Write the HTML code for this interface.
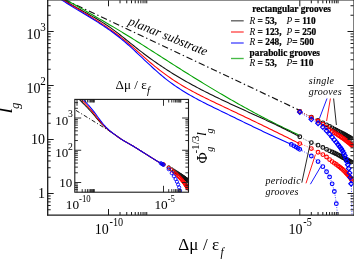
<!DOCTYPE html>
<html><head><meta charset="utf-8"><title>plot</title>
<style>html,body{margin:0;padding:0;background:#fff;overflow:hidden}body{width:354px;height:260px}</style></head>
<body>
<svg width="354" height="260" viewBox="0 0 354 260" style="display:block;will-change:transform;font-family:'Liberation Serif',serif">
<rect x="0" y="0" width="354" height="260" fill="#fff"/>
<defs><clipPath id="cm"><rect x="47.7" y="0.3" width="305.8" height="214.7"/></clipPath>
<clipPath id="ci"><rect x="74.8" y="99.4" width="113.7" height="92.8"/></clipPath></defs>
<g clip-path="url(#cm)">
<line x1="40" y1="-12.05" x2="299.7" y2="110.4" stroke="#111" stroke-width="1.15" stroke-dasharray="6.5 2.8 1.4 2.8"/>
<polyline fill="none" stroke="#00a000" stroke-width="1.08" stroke-linejoin="round"  points="54.5,-6.87 66.5,0.07 68.17,1.02 69.84,1.97 71.51,2.93 73.18,3.88 74.85,4.83 76.51,5.77 78.18,6.72 79.85,7.67 81.52,8.62 83.19,9.57 84.86,10.52 86.53,11.46 88.2,12.41 89.87,13.37 91.54,14.32 93.21,15.27 94.87,16.23 96.54,17.18 98.21,18.14 99.88,19.1 101.55,20.07 103.22,21.03 104.89,22 106.56,22.98 108.23,23.95 109.9,24.93 111.56,25.91 113.23,26.9 114.9,27.89 116.57,28.89 118.24,29.89 119.91,30.89 121.58,31.9 123.25,32.92 124.92,33.94 126.59,34.96 128.26,35.99 129.92,37.02 131.59,38.06 133.26,39.1 134.93,40.14 136.6,41.19 138.27,42.24 139.94,43.29 141.61,44.35 143.28,45.4 144.95,46.46 146.62,47.52 148.28,48.59 149.95,49.65 151.62,50.72 153.29,51.78 154.96,52.85 156.63,53.92 158.3,54.99 159.97,56.06 161.64,57.13 163.31,58.2 164.97,59.27 166.64,60.33 168.31,61.4 169.98,62.47 171.65,63.53 173.32,64.6 174.99,65.66 176.66,66.72 178.33,67.78 180,68.83 181.67,69.89 183.33,70.94 185,71.99 186.67,73.03 188.34,74.08 190.01,75.12 191.68,76.16 193.35,77.19 195.02,78.22 196.69,79.25 198.36,80.28 200.03,81.3 201.69,82.32 203.36,83.34 205.03,84.36 206.7,85.37 208.37,86.38 210.04,87.38 211.71,88.38 213.38,89.38 215.05,90.37 216.72,91.37 218.38,92.35 220.05,93.34 221.72,94.32 223.39,95.3 225.06,96.27 226.73,97.24 228.4,98.2 230.07,99.17 231.74,100.12 233.41,101.08 235.08,102.03 236.74,102.98 238.41,103.92 240.08,104.86 241.75,105.79 243.42,106.72 245.09,107.65 246.76,108.57 248.43,109.48 250.1,110.4 251.77,111.31 253.44,112.21 255.1,113.11 256.77,114 258.44,114.89 260.11,115.78 261.78,116.66 263.45,117.53 265.12,118.41 266.79,119.27 268.46,120.13 270.13,120.99 271.79,121.84 273.46,122.69 275.13,123.53 276.8,124.36 278.47,125.19 280.14,126.02 281.81,126.84 283.48,127.66 285.15,128.47 286.82,129.27 288.49,130.07 290.15,130.86 291.82,131.65 293.49,132.43 295.16,133.21 296.83,133.98 298.5,134.74"/>
<polyline fill="none" stroke="#111" stroke-width="1.08" stroke-linejoin="round"  points="52.5,-8.25 64.5,0.01 66.19,1.15 67.88,2.26 69.57,3.34 71.25,4.39 72.94,5.41 74.63,6.42 76.32,7.4 78.01,8.37 79.7,9.32 81.38,10.27 83.07,11.21 84.76,12.14 86.45,13.08 88.14,14.01 89.83,14.95 91.52,15.9 93.2,16.86 94.89,17.82 96.58,18.81 98.27,19.8 99.96,20.82 101.65,21.86 103.34,22.91 105.02,24 106.71,25.11 108.4,26.25 110.09,27.42 111.78,28.63 113.47,29.86 115.15,31.11 116.84,32.38 118.53,33.68 120.22,34.99 121.91,36.31 123.6,37.65 125.29,39 126.97,40.35 128.66,41.71 130.35,43.07 132.04,44.42 133.73,45.78 135.42,47.13 137.11,48.47 138.79,49.8 140.48,51.12 142.17,52.42 143.86,53.7 145.55,54.98 147.24,56.23 148.92,57.47 150.61,58.7 152.3,59.92 153.99,61.12 155.68,62.3 157.37,63.47 159.06,64.63 160.74,65.78 162.43,66.91 164.12,68.03 165.81,69.13 167.5,70.22 169.19,71.3 170.87,72.37 172.56,73.42 174.25,74.47 175.94,75.49 177.63,76.51 179.32,77.52 181.01,78.51 182.69,79.49 184.38,80.47 186.07,81.43 187.76,82.38 189.45,83.32 191.14,84.25 192.83,85.17 194.51,86.09 196.2,86.99 197.89,87.89 199.58,88.77 201.27,89.65 202.96,90.52 204.64,91.39 206.33,92.24 208.02,93.09 209.71,93.94 211.4,94.77 213.09,95.6 214.78,96.43 216.46,97.25 218.15,98.06 219.84,98.87 221.53,99.68 223.22,100.48 224.91,101.27 226.59,102.06 228.28,102.85 229.97,103.64 231.66,104.42 233.35,105.2 235.04,105.98 236.73,106.75 238.41,107.52 240.1,108.3 241.79,109.07 243.48,109.83 245.17,110.6 246.86,111.37 248.55,112.14 250.23,112.91 251.92,113.68 253.61,114.45 255.3,115.22 256.99,115.99 258.68,116.76 260.36,117.53 262.05,118.31 263.74,119.09 265.43,119.87 267.12,120.66 268.81,121.44 270.5,122.24 272.18,123.03 273.87,123.83 275.56,124.63 277.25,125.44 278.94,126.26 280.63,127.07 282.32,127.9 284,128.73 285.69,129.56 287.38,130.41 289.07,131.25 290.76,132.11 292.45,132.97 294.13,133.84 295.82,134.72 297.51,135.61 299.2,136.5"/>
<polyline fill="none" stroke="#ff0000" stroke-width="1.08" stroke-linejoin="round"  points="51,-7.51 63,0.02 64.7,1.08 66.4,2.13 68.1,3.18 69.8,4.21 71.5,5.24 73.2,6.27 74.91,7.29 76.61,8.31 78.31,9.33 80.01,10.35 81.71,11.37 83.41,12.39 85.11,13.41 86.81,14.44 88.51,15.47 90.21,16.51 91.91,17.55 93.61,18.6 95.31,19.66 97.01,20.73 98.72,21.81 100.42,22.9 102.12,24.01 103.82,25.13 105.52,26.26 107.22,27.41 108.92,28.58 110.62,29.76 112.32,30.97 114.02,32.19 115.72,33.44 117.42,34.7 119.12,35.99 120.82,37.31 122.53,38.65 124.23,40.01 125.93,41.41 127.63,42.82 129.33,44.26 131.03,45.72 132.73,47.19 134.43,48.68 136.13,50.17 137.83,51.67 139.53,53.17 141.23,54.67 142.93,56.17 144.63,57.67 146.34,59.15 148.04,60.62 149.74,62.07 151.44,63.51 153.14,64.92 154.84,66.31 156.54,67.68 158.24,69.03 159.94,70.35 161.64,71.65 163.34,72.93 165.04,74.18 166.74,75.41 168.44,76.62 170.15,77.8 171.85,78.96 173.55,80.09 175.25,81.2 176.95,82.29 178.65,83.36 180.35,84.41 182.05,85.43 183.75,86.44 185.45,87.43 187.15,88.4 188.85,89.36 190.55,90.3 192.25,91.23 193.96,92.14 195.66,93.04 197.36,93.93 199.06,94.81 200.76,95.67 202.46,96.53 204.16,97.38 205.86,98.22 207.56,99.05 209.26,99.88 210.96,100.7 212.66,101.52 214.36,102.33 216.06,103.14 217.77,103.95 219.47,104.76 221.17,105.57 222.87,106.38 224.57,107.19 226.27,108 227.97,108.81 229.67,109.62 231.37,110.43 233.07,111.24 234.77,112.05 236.47,112.86 238.17,113.67 239.87,114.48 241.58,115.29 243.28,116.11 244.98,116.92 246.68,117.73 248.38,118.55 250.08,119.36 251.78,120.18 253.48,121 255.18,121.81 256.88,122.63 258.58,123.45 260.28,124.27 261.98,125.1 263.68,125.92 265.39,126.75 267.09,127.57 268.79,128.4 270.49,129.23 272.19,130.06 273.89,130.89 275.59,131.72 277.29,132.56 278.99,133.39 280.69,134.23 282.39,135.07 284.09,135.91 285.79,136.76 287.49,137.6 289.2,138.45 290.9,139.3 292.6,140.15 294.3,141 296,141.86 297.7,142.71 299.4,143.57"/>
<polyline fill="none" stroke="#0000ff" stroke-width="1.08" stroke-linejoin="round"  points="49.8,-7.96 61.8,0.01 63.45,1.1 65.1,2.17 66.75,3.22 68.4,4.27 70.04,5.3 71.69,6.32 73.34,7.34 74.99,8.34 76.64,9.34 78.29,10.34 79.94,11.33 81.59,12.33 83.24,13.32 84.88,14.31 86.53,15.3 88.18,16.29 89.83,17.29 91.48,18.3 93.13,19.31 94.78,20.33 96.43,21.36 98.08,22.41 99.73,23.46 101.37,24.53 103.02,25.61 104.67,26.71 106.32,27.82 107.97,28.96 109.62,30.11 111.27,31.29 112.92,32.49 114.57,33.71 116.21,34.95 117.86,36.23 119.51,37.53 121.16,38.86 122.81,40.22 124.46,41.61 126.11,43.03 127.76,44.48 129.41,45.95 131.05,47.44 132.7,48.95 134.35,50.47 136,52 137.65,53.55 139.3,55.1 140.95,56.66 142.6,58.22 144.25,59.78 145.89,61.33 147.54,62.88 149.19,64.43 150.84,65.96 152.49,67.48 154.14,68.98 155.79,70.46 157.44,71.92 159.09,73.36 160.74,74.77 162.38,76.15 164.03,77.5 165.68,78.82 167.33,80.11 168.98,81.36 170.63,82.59 172.28,83.79 173.93,84.96 175.58,86.1 177.22,87.22 178.87,88.32 180.52,89.39 182.17,90.44 183.82,91.47 185.47,92.47 187.12,93.46 188.77,94.43 190.42,95.38 192.06,96.32 193.71,97.24 195.36,98.14 197.01,99.03 198.66,99.91 200.31,100.78 201.96,101.63 203.61,102.48 205.26,103.32 206.91,104.15 208.55,104.97 210.2,105.78 211.85,106.6 213.5,107.4 215.15,108.21 216.8,109.01 218.45,109.81 220.1,110.62 221.75,111.42 223.39,112.22 225.04,113.02 226.69,113.83 228.34,114.63 229.99,115.44 231.64,116.24 233.29,117.05 234.94,117.85 236.59,118.66 238.23,119.46 239.88,120.27 241.53,121.07 243.18,121.87 244.83,122.67 246.48,123.47 248.13,124.27 249.78,125.07 251.43,125.86 253.07,126.66 254.72,127.45 256.37,128.24 258.02,129.03 259.67,129.82 261.32,130.6 262.97,131.39 264.62,132.17 266.27,132.94 267.92,133.72 269.56,134.49 271.21,135.26 272.86,136.02 274.51,136.79 276.16,137.55 277.81,138.3 279.46,139.05 281.11,139.8 282.76,140.54 284.4,141.28 286.05,142.02 287.7,142.75 289.35,143.48 291,144.2"/>
<polyline fill="none" stroke="#111" stroke-width="0.8" stroke-linejoin="round" stroke-dasharray="0.9 1.6" points="299,136.3 299.53,136.61 300.05,136.91 300.58,137.21 301.11,137.51 301.63,137.81 302.16,138.1 302.69,138.38 303.22,138.66 303.74,138.94 304.27,139.22 304.8,139.49 305.32,139.76 305.85,140.02 306.38,140.28 306.9,140.54 307.43,140.8 307.96,141.05 308.48,141.29 309.01,141.54 309.54,141.78 310.06,142.01 310.59,142.25 311.12,142.48 311.65,142.7 312.17,142.92 312.7,143.13 313.23,143.33 313.75,143.52 314.28,143.71 314.81,143.9 315.33,144.09 315.86,144.28 316.39,144.48 316.91,144.68 317.44,144.89 317.97,145.1 318.49,145.33 319.02,145.56 319.55,145.81 320.08,146.05 320.6,146.31 321.13,146.57 321.66,146.83 322.18,147.09 322.71,147.36 323.24,147.62 323.76,147.89 324.29,148.16 324.82,148.43 325.34,148.71 325.87,148.98 326.4,149.25 326.92,149.51 327.45,149.77 327.98,150.03 328.51,150.28 329.03,150.54 329.56,150.79 330.09,151.04 330.61,151.29 331.14,151.53 331.67,151.78 332.19,152.02 332.72,152.26 333.25,152.5 333.77,152.74 334.3,152.98 334.83,153.23 335.35,153.48 335.88,153.74 336.41,154 336.94,154.27 337.46,154.55 337.99,154.82 338.52,155.11 339.04,155.39 339.57,155.67 340.1,155.96 340.62,156.25 341.15,156.54 341.68,156.82 342.2,157.11 342.73,157.4 343.26,157.68 343.78,157.97 344.31,158.26 344.84,158.55 345.37,158.83 345.89,159.12 346.42,159.41 346.95,159.7 347.47,160 348,160.29 348.53,160.59 349.05,160.88 349.58,161.18 350.11,161.48 350.63,161.79 351.16,162.09"/>
<circle cx="299.8" cy="136.77" r="1.85" fill="none" stroke="#111" stroke-width="1.12"/>
<circle cx="311.32" cy="142.56" r="1.85" fill="none" stroke="#111" stroke-width="1.12"/>
<circle cx="318.05" cy="145.14" r="1.85" fill="none" stroke="#111" stroke-width="1.12"/>
<circle cx="322.83" cy="147.42" r="1.85" fill="none" stroke="#111" stroke-width="1.12"/>
<circle cx="326.54" cy="149.32" r="1.85" fill="none" stroke="#111" stroke-width="1.12"/>
<circle cx="329.57" cy="150.8" r="1.85" fill="none" stroke="#111" stroke-width="1.12"/>
<circle cx="332.13" cy="151.99" r="1.85" fill="none" stroke="#111" stroke-width="1.12"/>
<circle cx="334.35" cy="153.01" r="1.85" fill="none" stroke="#111" stroke-width="1.12"/>
<circle cx="336.31" cy="153.95" r="1.85" fill="none" stroke="#111" stroke-width="1.12"/>
<circle cx="338.06" cy="154.86" r="1.85" fill="none" stroke="#111" stroke-width="1.12"/>
<circle cx="339.64" cy="155.71" r="1.85" fill="none" stroke="#111" stroke-width="1.12"/>
<circle cx="341.09" cy="156.5" r="1.85" fill="none" stroke="#111" stroke-width="1.12"/>
<circle cx="342.42" cy="157.23" r="1.85" fill="none" stroke="#111" stroke-width="1.12"/>
<circle cx="343.65" cy="157.9" r="1.85" fill="none" stroke="#111" stroke-width="1.12"/>
<circle cx="344.8" cy="158.52" r="1.85" fill="none" stroke="#111" stroke-width="1.12"/>
<circle cx="345.87" cy="159.11" r="1.85" fill="none" stroke="#111" stroke-width="1.12"/>
<circle cx="346.88" cy="159.67" r="1.85" fill="none" stroke="#111" stroke-width="1.12"/>
<circle cx="347.83" cy="160.19" r="1.85" fill="none" stroke="#111" stroke-width="1.12"/>
<circle cx="348.73" cy="160.7" r="1.85" fill="none" stroke="#111" stroke-width="1.12"/>
<circle cx="349.58" cy="161.18" r="1.85" fill="none" stroke="#111" stroke-width="1.12"/>
<circle cx="350.39" cy="161.65" r="1.85" fill="none" stroke="#111" stroke-width="1.12"/>
<circle cx="351.16" cy="162.09" r="1.85" fill="none" stroke="#111" stroke-width="1.12"/>
<polyline fill="none" stroke="#111" stroke-width="0.8" stroke-linejoin="round" stroke-dasharray="0.9 1.6" points="299.7,111.3 300.22,111.56 300.74,111.82 301.26,112.08 301.78,112.34 302.3,112.6 302.82,112.86 303.34,113.12 303.86,113.38 304.38,113.64 304.9,113.89 305.42,114.15 305.94,114.41 306.46,114.67 306.98,114.92 307.5,115.18 308.02,115.44 308.54,115.69 309.06,115.95 309.58,116.2 310.1,116.46 310.62,116.71 311.14,116.97 311.66,117.22 312.18,117.47 312.7,117.72 313.22,117.97 313.73,118.22 314.25,118.47 314.77,118.72 315.29,118.97 315.81,119.22 316.33,119.47 316.85,119.73 317.37,119.98 317.89,120.25 318.41,120.51 318.93,120.78 319.45,121.06 319.97,121.34 320.49,121.61 321.01,121.9 321.53,122.18 322.05,122.45 322.57,122.73 323.09,123.01 323.61,123.28 324.13,123.55 324.65,123.82 325.17,124.1 325.69,124.37 326.21,124.65 326.73,124.92 327.25,125.2 327.77,125.48 328.29,125.77 328.81,126.05 329.33,126.33 329.85,126.62 330.37,126.9 330.89,127.19 331.41,127.47 331.93,127.76 332.45,128.05 332.97,128.34 333.49,128.63 334.01,128.91 334.53,129.2 335.05,129.48 335.57,129.77 336.09,130.05 336.61,130.32 337.13,130.6 337.65,130.87 338.17,131.14 338.69,131.41 339.21,131.68 339.73,131.95 340.25,132.22 340.76,132.49 341.28,132.76 341.8,133.03 342.32,133.3 342.84,133.58 343.36,133.85 343.88,134.14 344.4,134.42 344.92,134.71 345.44,135.01 345.96,135.31 346.48,135.61 347,135.91 347.52,136.21 348.04,136.51 348.56,136.82 349.08,137.12 349.6,137.42 350.12,137.71 350.64,138 351.16,138.29"/>
<circle cx="299.8" cy="111.35" r="1.85" fill="none" stroke="#111" stroke-width="1.12"/>
<circle cx="311.32" cy="117.06" r="1.85" fill="none" stroke="#111" stroke-width="1.12"/>
<circle cx="318.05" cy="120.33" r="1.85" fill="none" stroke="#111" stroke-width="1.12"/>
<circle cx="322.83" cy="122.87" r="1.85" fill="none" stroke="#111" stroke-width="1.12"/>
<circle cx="326.54" cy="124.82" r="1.85" fill="none" stroke="#111" stroke-width="1.12"/>
<circle cx="329.57" cy="126.47" r="1.85" fill="none" stroke="#111" stroke-width="1.12"/>
<circle cx="332.13" cy="127.88" r="1.85" fill="none" stroke="#111" stroke-width="1.12"/>
<circle cx="334.35" cy="129.1" r="1.85" fill="none" stroke="#111" stroke-width="1.12"/>
<circle cx="336.31" cy="130.17" r="1.85" fill="none" stroke="#111" stroke-width="1.12"/>
<circle cx="338.06" cy="131.09" r="1.85" fill="none" stroke="#111" stroke-width="1.12"/>
<circle cx="339.64" cy="131.91" r="1.85" fill="none" stroke="#111" stroke-width="1.12"/>
<circle cx="341.09" cy="132.65" r="1.85" fill="none" stroke="#111" stroke-width="1.12"/>
<circle cx="342.42" cy="133.35" r="1.85" fill="none" stroke="#111" stroke-width="1.12"/>
<circle cx="343.65" cy="134.01" r="1.85" fill="none" stroke="#111" stroke-width="1.12"/>
<circle cx="344.8" cy="134.64" r="1.85" fill="none" stroke="#111" stroke-width="1.12"/>
<circle cx="345.87" cy="135.25" r="1.85" fill="none" stroke="#111" stroke-width="1.12"/>
<circle cx="346.88" cy="135.84" r="1.85" fill="none" stroke="#111" stroke-width="1.12"/>
<circle cx="347.83" cy="136.39" r="1.85" fill="none" stroke="#111" stroke-width="1.12"/>
<circle cx="348.73" cy="136.91" r="1.85" fill="none" stroke="#111" stroke-width="1.12"/>
<circle cx="349.58" cy="137.4" r="1.85" fill="none" stroke="#111" stroke-width="1.12"/>
<circle cx="350.39" cy="137.86" r="1.85" fill="none" stroke="#111" stroke-width="1.12"/>
<circle cx="351.16" cy="138.29" r="1.85" fill="none" stroke="#111" stroke-width="1.12"/>
<polyline fill="none" stroke="#ff0000" stroke-width="0.8" stroke-linejoin="round" stroke-dasharray="0.9 1.6" points="299.8,143.6 300.33,143.79 300.85,143.99 301.38,144.19 301.91,144.39 302.43,144.6 302.96,144.81 303.48,145.02 304.01,145.24 304.54,145.46 305.06,145.68 305.59,145.91 306.12,146.14 306.64,146.37 307.17,146.61 307.69,146.85 308.22,147.09 308.75,147.33 309.27,147.58 309.8,147.83 310.33,148.08 310.85,148.33 311.38,148.59 311.9,148.85 312.43,149.12 312.96,149.4 313.48,149.69 314.01,149.98 314.54,150.28 315.06,150.57 315.59,150.87 316.11,151.17 316.64,151.46 317.17,151.75 317.69,152.03 318.22,152.31 318.75,152.58 319.27,152.83 319.8,153.09 320.32,153.34 320.85,153.59 321.38,153.84 321.9,154.11 322.43,154.38 322.96,154.67 323.48,154.98 324.01,155.3 324.53,155.64 325.06,155.99 325.59,156.35 326.11,156.72 326.64,157.1 327.17,157.51 327.69,157.94 328.22,158.39 328.74,158.84 329.27,159.3 329.8,159.76 330.32,160.21 330.85,160.65 331.38,161.06 331.9,161.45 332.43,161.83 332.95,162.2 333.48,162.56 334.01,162.92 334.53,163.27 335.06,163.63 335.59,163.99 336.11,164.36 336.64,164.73 337.16,165.12 337.69,165.51 338.22,165.9 338.74,166.3 339.27,166.7 339.8,167.1 340.32,167.51 340.85,167.93 341.37,168.36 341.9,168.81 342.43,169.27 342.95,169.74 343.48,170.24 344.01,170.78 344.53,171.33 345.06,171.89 345.58,172.47 346.11,173.04 346.64,173.61 347.16,174.17 347.69,174.7 348.22,175.23 348.74,175.77 349.27,176.35 349.79,176.99 350.32,177.72 350.85,178.53 351.37,179.41 351.9,180.35"/>
<circle cx="299.8" cy="143.6" r="1.85" fill="none" stroke="#ff0000" stroke-width="1.12"/>
<circle cx="311.32" cy="148.56" r="1.85" fill="none" stroke="#ff0000" stroke-width="1.12"/>
<circle cx="318.05" cy="152.22" r="1.85" fill="none" stroke="#ff0000" stroke-width="1.12"/>
<circle cx="322.83" cy="154.61" r="1.85" fill="none" stroke="#ff0000" stroke-width="1.12"/>
<circle cx="326.54" cy="157.03" r="1.85" fill="none" stroke="#ff0000" stroke-width="1.12"/>
<circle cx="329.57" cy="159.57" r="1.85" fill="none" stroke="#ff0000" stroke-width="1.12"/>
<circle cx="332.13" cy="161.62" r="1.85" fill="none" stroke="#ff0000" stroke-width="1.12"/>
<circle cx="334.35" cy="163.15" r="1.85" fill="none" stroke="#ff0000" stroke-width="1.12"/>
<circle cx="336.31" cy="164.5" r="1.85" fill="none" stroke="#ff0000" stroke-width="1.12"/>
<circle cx="338.06" cy="165.79" r="1.85" fill="none" stroke="#ff0000" stroke-width="1.12"/>
<circle cx="339.64" cy="166.98" r="1.85" fill="none" stroke="#ff0000" stroke-width="1.12"/>
<circle cx="341.09" cy="168.13" r="1.85" fill="none" stroke="#ff0000" stroke-width="1.12"/>
<circle cx="342.42" cy="169.26" r="1.85" fill="none" stroke="#ff0000" stroke-width="1.12"/>
<circle cx="343.65" cy="170.41" r="1.85" fill="none" stroke="#ff0000" stroke-width="1.12"/>
<circle cx="344.8" cy="171.61" r="1.85" fill="none" stroke="#ff0000" stroke-width="1.12"/>
<circle cx="345.87" cy="172.78" r="1.85" fill="none" stroke="#ff0000" stroke-width="1.12"/>
<circle cx="346.88" cy="173.87" r="1.85" fill="none" stroke="#ff0000" stroke-width="1.12"/>
<circle cx="347.83" cy="174.84" r="1.85" fill="none" stroke="#ff0000" stroke-width="1.12"/>
<circle cx="348.73" cy="175.75" r="1.85" fill="none" stroke="#ff0000" stroke-width="1.12"/>
<circle cx="349.58" cy="176.72" r="1.85" fill="none" stroke="#ff0000" stroke-width="1.12"/>
<circle cx="350.39" cy="177.82" r="1.85" fill="none" stroke="#ff0000" stroke-width="1.12"/>
<circle cx="351.16" cy="179.04" r="1.85" fill="none" stroke="#ff0000" stroke-width="1.12"/>
<circle cx="351.9" cy="180.35" r="1.85" fill="none" stroke="#ff0000" stroke-width="1.12"/>
<polyline fill="none" stroke="#ff0000" stroke-width="0.8" stroke-linejoin="round" stroke-dasharray="0.9 1.6" points="299.7,111.5 300.23,111.75 300.75,112.01 301.28,112.26 301.81,112.52 302.34,112.78 302.86,113.04 303.39,113.3 303.92,113.56 304.45,113.83 304.97,114.09 305.5,114.36 306.03,114.63 306.55,114.89 307.08,115.16 307.61,115.43 308.14,115.71 308.66,115.98 309.19,116.25 309.72,116.53 310.25,116.8 310.77,117.08 311.3,117.35 311.83,117.63 312.35,117.91 312.88,118.18 313.41,118.46 313.94,118.74 314.46,119.02 314.99,119.31 315.52,119.59 316.05,119.88 316.57,120.18 317.1,120.48 317.63,120.78 318.15,121.09 318.68,121.41 319.21,121.72 319.74,122.05 320.26,122.38 320.79,122.71 321.32,123.06 321.85,123.41 322.37,123.77 322.9,124.14 323.43,124.53 323.95,124.94 324.48,125.35 325.01,125.78 325.54,126.21 326.06,126.64 326.59,127.08 327.12,127.53 327.65,128 328.17,128.47 328.7,128.94 329.23,129.39 329.75,129.82 330.28,130.2 330.81,130.57 331.34,130.92 331.86,131.25 332.39,131.57 332.92,131.89 333.45,132.19 333.97,132.5 334.5,132.8 335.03,133.11 335.55,133.41 336.08,133.73 336.61,134.05 337.14,134.39 337.66,134.73 338.19,135.07 338.72,135.41 339.25,135.75 339.77,136.1 340.3,136.44 340.83,136.8 341.35,137.15 341.88,137.51 342.41,137.87 342.94,138.24 343.46,138.61 343.99,138.99 344.52,139.38 345.05,139.77 345.57,140.17 346.1,140.57 346.63,140.98 347.15,141.4 347.68,141.82 348.21,142.24 348.74,142.66 349.26,143.09 349.79,143.52 350.32,143.95 350.85,144.37 351.37,144.8 351.9,145.24"/>
<circle cx="299.8" cy="111.55" r="1.85" fill="none" stroke="#ff0000" stroke-width="1.12"/>
<circle cx="311.32" cy="117.36" r="1.85" fill="none" stroke="#ff0000" stroke-width="1.12"/>
<circle cx="318.05" cy="121.03" r="1.85" fill="none" stroke="#ff0000" stroke-width="1.12"/>
<circle cx="322.83" cy="124.1" r="1.85" fill="none" stroke="#ff0000" stroke-width="1.12"/>
<circle cx="326.54" cy="127.04" r="1.85" fill="none" stroke="#ff0000" stroke-width="1.12"/>
<circle cx="329.57" cy="129.67" r="1.85" fill="none" stroke="#ff0000" stroke-width="1.12"/>
<circle cx="332.13" cy="131.42" r="1.85" fill="none" stroke="#ff0000" stroke-width="1.12"/>
<circle cx="334.35" cy="132.72" r="1.85" fill="none" stroke="#ff0000" stroke-width="1.12"/>
<circle cx="336.31" cy="133.87" r="1.85" fill="none" stroke="#ff0000" stroke-width="1.12"/>
<circle cx="338.06" cy="134.98" r="1.85" fill="none" stroke="#ff0000" stroke-width="1.12"/>
<circle cx="339.64" cy="136.01" r="1.85" fill="none" stroke="#ff0000" stroke-width="1.12"/>
<circle cx="341.09" cy="136.97" r="1.85" fill="none" stroke="#ff0000" stroke-width="1.12"/>
<circle cx="342.42" cy="137.88" r="1.85" fill="none" stroke="#ff0000" stroke-width="1.12"/>
<circle cx="343.65" cy="138.75" r="1.85" fill="none" stroke="#ff0000" stroke-width="1.12"/>
<circle cx="344.8" cy="139.59" r="1.85" fill="none" stroke="#ff0000" stroke-width="1.12"/>
<circle cx="345.87" cy="140.4" r="1.85" fill="none" stroke="#ff0000" stroke-width="1.12"/>
<circle cx="346.88" cy="141.18" r="1.85" fill="none" stroke="#ff0000" stroke-width="1.12"/>
<circle cx="347.83" cy="141.93" r="1.85" fill="none" stroke="#ff0000" stroke-width="1.12"/>
<circle cx="348.73" cy="142.65" r="1.85" fill="none" stroke="#ff0000" stroke-width="1.12"/>
<circle cx="349.58" cy="143.34" r="1.85" fill="none" stroke="#ff0000" stroke-width="1.12"/>
<circle cx="350.39" cy="144" r="1.85" fill="none" stroke="#ff0000" stroke-width="1.12"/>
<circle cx="351.16" cy="144.63" r="1.85" fill="none" stroke="#ff0000" stroke-width="1.12"/>
<circle cx="351.9" cy="145.24" r="1.85" fill="none" stroke="#ff0000" stroke-width="1.12"/>
<polyline fill="none" stroke="#0000ff" stroke-width="0.8" stroke-linejoin="round" stroke-dasharray="0.9 1.6" points="291.2,144.4 291.67,144.65 292.14,144.9 292.61,145.15 293.07,145.41 293.54,145.66 294.01,145.91 294.48,146.16 294.95,146.41 295.42,146.67 295.89,146.93 296.36,147.21 296.82,147.51 297.29,147.81 297.76,148.11 298.23,148.4 298.7,148.69 299.17,148.98 299.64,149.26 300.11,149.54 300.57,149.81 301.04,150.08 301.51,150.35 301.98,150.61 302.45,150.86 302.92,151.12 303.39,151.37 303.85,151.63 304.32,151.88 304.79,152.13 305.26,152.39 305.73,152.64 306.2,152.9 306.67,153.16 307.14,153.42 307.6,153.69 308.07,153.96 308.54,154.24 309.01,154.52 309.48,154.81 309.95,155.1 310.42,155.41 310.88,155.72 311.35,156.04 311.82,156.37 312.29,156.71 312.76,157.06 313.23,157.41 313.7,157.78 314.17,158.16 314.63,158.54 315.1,158.93 315.57,159.33 316.04,159.74 316.51,160.16 316.98,160.58 317.45,161.01 317.92,161.44 318.38,161.88 318.85,162.33 319.32,162.79 319.79,163.26 320.26,163.75 320.73,164.25 321.2,164.76 321.66,165.29 322.13,165.83 322.6,166.38 323.07,166.95 323.54,167.54 324.01,168.15 324.48,168.78 324.95,169.43 325.41,170.09 325.88,170.77 326.35,171.47 326.82,172.19 327.29,172.91 327.76,173.65 328.23,174.42 328.69,175.24 329.16,176.12 329.63,177.07 330.1,178.13 330.57,179.3 331.04,180.57 331.51,181.91 331.98,183.31 332.44,184.74 332.91,186.19 333.38,187.72 333.85,189.41 334.32,191.34 334.79,193.62 335.26,196.33 335.73,199.41 336.19,202.82 336.66,206.58 337.13,211.04 337.6,216"/>
<circle cx="291.31" cy="144.46" r="1.85" fill="none" stroke="#0000ff" stroke-width="1.12"/>
<circle cx="293.87" cy="145.84" r="1.85" fill="none" stroke="#0000ff" stroke-width="1.12"/>
<circle cx="296.09" cy="147.05" r="1.85" fill="none" stroke="#0000ff" stroke-width="1.12"/>
<circle cx="298.05" cy="148.29" r="1.85" fill="none" stroke="#0000ff" stroke-width="1.12"/>
<circle cx="299.8" cy="149.36" r="1.85" fill="none" stroke="#0000ff" stroke-width="1.12"/>
<circle cx="311.32" cy="156.01" r="1.85" fill="none" stroke="#0000ff" stroke-width="1.12"/>
<circle cx="318.05" cy="161.57" r="1.85" fill="none" stroke="#0000ff" stroke-width="1.12"/>
<circle cx="322.83" cy="166.66" r="1.85" fill="none" stroke="#0000ff" stroke-width="1.12"/>
<circle cx="326.54" cy="171.76" r="1.85" fill="none" stroke="#0000ff" stroke-width="1.12"/>
<circle cx="329.57" cy="176.94" r="1.85" fill="none" stroke="#0000ff" stroke-width="1.12"/>
<circle cx="332.13" cy="183.79" r="1.85" fill="none" stroke="#0000ff" stroke-width="1.12"/>
<circle cx="334.35" cy="191.48" r="1.85" fill="none" stroke="#0000ff" stroke-width="1.12"/>
<circle cx="336.31" cy="203.7" r="1.85" fill="none" stroke="#0000ff" stroke-width="1.12"/>
<polyline fill="none" stroke="#0000ff" stroke-width="0.8" stroke-linejoin="round" stroke-dasharray="0.9 1.6" points="299.7,112 300.23,112.35 300.76,112.71 301.28,113.06 301.81,113.41 302.34,113.75 302.87,114.1 303.4,114.44 303.93,114.78 304.45,115.12 304.98,115.46 305.51,115.79 306.04,116.13 306.57,116.46 307.1,116.79 307.62,117.12 308.15,117.45 308.68,117.77 309.21,118.09 309.74,118.42 310.27,118.74 310.79,119.06 311.32,119.37 311.85,119.68 312.38,119.98 312.91,120.27 313.44,120.56 313.96,120.84 314.49,121.13 315.02,121.41 315.55,121.7 316.08,122 316.61,122.31 317.13,122.64 317.66,122.97 318.19,123.33 318.72,123.71 319.25,124.1 319.77,124.51 320.3,124.94 320.83,125.38 321.36,125.83 321.89,126.28 322.42,126.75 322.94,127.22 323.47,127.7 324,128.2 324.53,128.71 325.06,129.23 325.59,129.76 326.11,130.3 326.64,130.85 327.17,131.41 327.7,131.98 328.23,132.56 328.76,133.15 329.28,133.75 329.81,134.36 330.34,134.99 330.87,135.62 331.4,136.27 331.93,136.92 332.45,137.58 332.98,138.23 333.51,138.89 334.04,139.55 334.57,140.2 335.09,140.85 335.62,141.49 336.15,142.15 336.68,142.81 337.21,143.47 337.74,144.15 338.26,144.85 338.79,145.53 339.32,146.21 339.85,146.91 340.38,147.61 340.91,148.35 341.43,149.12 341.96,149.95 342.49,150.83 343.02,151.77 343.55,152.79 344.08,153.89 344.6,155.07 345.13,156.32 345.66,157.72 346.19,159.25 346.72,160.91 347.25,162.66 347.77,164.56 348.3,166.65 348.83,169.02 349.36,171.73 349.89,174.69 350.42,177.58 350.94,181.46 351.47,188.89 352,216"/>
<path d="M297.45 112.07L299.8 109.72L302.15 112.07L299.8 114.42Z" fill="none" stroke="#0000ff" stroke-width="1.15"/>
<path d="M308.97 119.37L311.32 117.02L313.67 119.37L311.32 121.72Z" fill="none" stroke="#0000ff" stroke-width="1.15"/>
<path d="M315.7 123.24L318.05 120.89L320.4 123.24L318.05 125.59Z" fill="none" stroke="#0000ff" stroke-width="1.15"/>
<path d="M320.48 127.12L322.83 124.77L325.18 127.12L322.83 129.47Z" fill="none" stroke="#0000ff" stroke-width="1.15"/>
<path d="M324.19 130.74L326.54 128.39L328.89 130.74L326.54 133.09Z" fill="none" stroke="#0000ff" stroke-width="1.15"/>
<path d="M327.22 134.08L329.57 131.73L331.92 134.08L329.57 136.43Z" fill="none" stroke="#0000ff" stroke-width="1.15"/>
<path d="M329.78 137.18L332.13 134.83L334.48 137.18L332.13 139.53Z" fill="none" stroke="#0000ff" stroke-width="1.15"/>
<path d="M332 139.93L334.35 137.58L336.7 139.93L334.35 142.28Z" fill="none" stroke="#0000ff" stroke-width="1.15"/>
<path d="M333.96 142.34L336.31 139.99L338.66 142.34L336.31 144.69Z" fill="none" stroke="#0000ff" stroke-width="1.15"/>
<path d="M335.71 144.58L338.06 142.23L340.41 144.58L338.06 146.93Z" fill="none" stroke="#0000ff" stroke-width="1.15"/>
<path d="M337.29 146.63L339.64 144.28L341.99 146.63L339.64 148.98Z" fill="none" stroke="#0000ff" stroke-width="1.15"/>
<path d="M338.74 148.61L341.09 146.26L343.44 148.61L341.09 150.96Z" fill="none" stroke="#0000ff" stroke-width="1.15"/>
<path d="M340.07 150.7L342.42 148.35L344.77 150.7L342.42 153.05Z" fill="none" stroke="#0000ff" stroke-width="1.15"/>
<path d="M341.3 153L343.65 150.65L346 153L343.65 155.35Z" fill="none" stroke="#0000ff" stroke-width="1.15"/>
<path d="M342.45 155.52L344.8 153.17L347.15 155.52L344.8 157.87Z" fill="none" stroke="#0000ff" stroke-width="1.15"/>
<path d="M343.52 158.31L345.87 155.96L348.22 158.31L345.87 160.66Z" fill="none" stroke="#0000ff" stroke-width="1.15"/>
<path d="M344.53 161.42L346.88 159.07L349.23 161.42L346.88 163.77Z" fill="none" stroke="#0000ff" stroke-width="1.15"/>
<path d="M345.48 164.76L347.83 162.41L350.18 164.76L347.83 167.11Z" fill="none" stroke="#0000ff" stroke-width="1.15"/>
<path d="M346.38 168.52L348.73 166.17L351.08 168.52L348.73 170.87Z" fill="none" stroke="#0000ff" stroke-width="1.15"/>
<path d="M347.23 172.94L349.58 170.59L351.93 172.94L349.58 175.29Z" fill="none" stroke="#0000ff" stroke-width="1.15"/>
<path d="M348.04 177.42L350.39 175.07L352.74 177.42L350.39 179.77Z" fill="none" stroke="#0000ff" stroke-width="1.15"/>
<path d="M348.81 183.77L351.16 181.42L353.51 183.77L351.16 186.12Z" fill="none" stroke="#0000ff" stroke-width="1.15"/>
<line x1="327" y1="98.5" x2="319.6" y2="118" stroke="#0000ff" stroke-width="0.9" />
<line x1="330.4" y1="98.5" x2="326.6" y2="121" stroke="#ff0000" stroke-width="0.9" />
<line x1="333.6" y1="98.5" x2="336.4" y2="125" stroke="#111" stroke-width="0.9" />
<line x1="310" y1="144.5" x2="301.8" y2="182.7" stroke="#111" stroke-width="0.9" />
<line x1="315.4" y1="154.6" x2="306" y2="183.3" stroke="#ff0000" stroke-width="0.9" />
<line x1="321" y1="166.2" x2="310.4" y2="184.2" stroke="#0000ff" stroke-width="0.9" />
</g>
<line x1="47.1" y1="0" x2="354.5" y2="0" stroke="#1a1a1a" stroke-width="1" />
<line x1="47.7" y1="-1" x2="47.7" y2="215.6" stroke="#1a1a1a" stroke-width="1.3" />
<line x1="353.95" y1="-1" x2="353.95" y2="215.6" stroke="#1a1a1a" stroke-width="1" />
<line x1="47.1" y1="215" x2="354.5" y2="215" stroke="#1a1a1a" stroke-width="1.25" />
<line x1="47.7" y1="209.76" x2="50.7" y2="209.76" stroke="#1a1a1a" stroke-width="1" />
<line x1="353.5" y1="209.76" x2="350.5" y2="209.76" stroke="#1a1a1a" stroke-width="1" />
<line x1="47.7" y1="205.48" x2="50.7" y2="205.48" stroke="#1a1a1a" stroke-width="1" />
<line x1="353.5" y1="205.48" x2="350.5" y2="205.48" stroke="#1a1a1a" stroke-width="1" />
<line x1="47.7" y1="201.86" x2="50.7" y2="201.86" stroke="#1a1a1a" stroke-width="1" />
<line x1="353.5" y1="201.86" x2="350.5" y2="201.86" stroke="#1a1a1a" stroke-width="1" />
<line x1="47.7" y1="198.73" x2="50.7" y2="198.73" stroke="#1a1a1a" stroke-width="1" />
<line x1="353.5" y1="198.73" x2="350.5" y2="198.73" stroke="#1a1a1a" stroke-width="1" />
<line x1="47.7" y1="195.97" x2="50.7" y2="195.97" stroke="#1a1a1a" stroke-width="1" />
<line x1="353.5" y1="195.97" x2="350.5" y2="195.97" stroke="#1a1a1a" stroke-width="1" />
<line x1="47.7" y1="193.5" x2="53.7" y2="193.5" stroke="#1a1a1a" stroke-width="1" />
<line x1="353.5" y1="193.5" x2="347.5" y2="193.5" stroke="#1a1a1a" stroke-width="1" />
<line x1="47.7" y1="177.24" x2="50.7" y2="177.24" stroke="#1a1a1a" stroke-width="1" />
<line x1="353.5" y1="177.24" x2="350.5" y2="177.24" stroke="#1a1a1a" stroke-width="1" />
<line x1="47.7" y1="167.74" x2="50.7" y2="167.74" stroke="#1a1a1a" stroke-width="1" />
<line x1="353.5" y1="167.74" x2="350.5" y2="167.74" stroke="#1a1a1a" stroke-width="1" />
<line x1="47.7" y1="160.99" x2="50.7" y2="160.99" stroke="#1a1a1a" stroke-width="1" />
<line x1="353.5" y1="160.99" x2="350.5" y2="160.99" stroke="#1a1a1a" stroke-width="1" />
<line x1="47.7" y1="155.76" x2="50.7" y2="155.76" stroke="#1a1a1a" stroke-width="1" />
<line x1="353.5" y1="155.76" x2="350.5" y2="155.76" stroke="#1a1a1a" stroke-width="1" />
<line x1="47.7" y1="151.48" x2="50.7" y2="151.48" stroke="#1a1a1a" stroke-width="1" />
<line x1="353.5" y1="151.48" x2="350.5" y2="151.48" stroke="#1a1a1a" stroke-width="1" />
<line x1="47.7" y1="147.86" x2="50.7" y2="147.86" stroke="#1a1a1a" stroke-width="1" />
<line x1="353.5" y1="147.86" x2="350.5" y2="147.86" stroke="#1a1a1a" stroke-width="1" />
<line x1="47.7" y1="144.73" x2="50.7" y2="144.73" stroke="#1a1a1a" stroke-width="1" />
<line x1="353.5" y1="144.73" x2="350.5" y2="144.73" stroke="#1a1a1a" stroke-width="1" />
<line x1="47.7" y1="141.97" x2="50.7" y2="141.97" stroke="#1a1a1a" stroke-width="1" />
<line x1="353.5" y1="141.97" x2="350.5" y2="141.97" stroke="#1a1a1a" stroke-width="1" />
<line x1="47.7" y1="139.5" x2="53.7" y2="139.5" stroke="#1a1a1a" stroke-width="1" />
<line x1="353.5" y1="139.5" x2="347.5" y2="139.5" stroke="#1a1a1a" stroke-width="1" />
<line x1="47.7" y1="123.24" x2="50.7" y2="123.24" stroke="#1a1a1a" stroke-width="1" />
<line x1="353.5" y1="123.24" x2="350.5" y2="123.24" stroke="#1a1a1a" stroke-width="1" />
<line x1="47.7" y1="113.74" x2="50.7" y2="113.74" stroke="#1a1a1a" stroke-width="1" />
<line x1="353.5" y1="113.74" x2="350.5" y2="113.74" stroke="#1a1a1a" stroke-width="1" />
<line x1="47.7" y1="106.99" x2="50.7" y2="106.99" stroke="#1a1a1a" stroke-width="1" />
<line x1="353.5" y1="106.99" x2="350.5" y2="106.99" stroke="#1a1a1a" stroke-width="1" />
<line x1="47.7" y1="101.76" x2="50.7" y2="101.76" stroke="#1a1a1a" stroke-width="1" />
<line x1="353.5" y1="101.76" x2="350.5" y2="101.76" stroke="#1a1a1a" stroke-width="1" />
<line x1="47.7" y1="97.48" x2="50.7" y2="97.48" stroke="#1a1a1a" stroke-width="1" />
<line x1="353.5" y1="97.48" x2="350.5" y2="97.48" stroke="#1a1a1a" stroke-width="1" />
<line x1="47.7" y1="93.86" x2="50.7" y2="93.86" stroke="#1a1a1a" stroke-width="1" />
<line x1="353.5" y1="93.86" x2="350.5" y2="93.86" stroke="#1a1a1a" stroke-width="1" />
<line x1="47.7" y1="90.73" x2="50.7" y2="90.73" stroke="#1a1a1a" stroke-width="1" />
<line x1="353.5" y1="90.73" x2="350.5" y2="90.73" stroke="#1a1a1a" stroke-width="1" />
<line x1="47.7" y1="87.97" x2="50.7" y2="87.97" stroke="#1a1a1a" stroke-width="1" />
<line x1="353.5" y1="87.97" x2="350.5" y2="87.97" stroke="#1a1a1a" stroke-width="1" />
<line x1="47.7" y1="85.5" x2="53.7" y2="85.5" stroke="#1a1a1a" stroke-width="1" />
<line x1="353.5" y1="85.5" x2="347.5" y2="85.5" stroke="#1a1a1a" stroke-width="1" />
<line x1="47.7" y1="69.24" x2="50.7" y2="69.24" stroke="#1a1a1a" stroke-width="1" />
<line x1="353.5" y1="69.24" x2="350.5" y2="69.24" stroke="#1a1a1a" stroke-width="1" />
<line x1="47.7" y1="59.74" x2="50.7" y2="59.74" stroke="#1a1a1a" stroke-width="1" />
<line x1="353.5" y1="59.74" x2="350.5" y2="59.74" stroke="#1a1a1a" stroke-width="1" />
<line x1="47.7" y1="52.99" x2="50.7" y2="52.99" stroke="#1a1a1a" stroke-width="1" />
<line x1="353.5" y1="52.99" x2="350.5" y2="52.99" stroke="#1a1a1a" stroke-width="1" />
<line x1="47.7" y1="47.76" x2="50.7" y2="47.76" stroke="#1a1a1a" stroke-width="1" />
<line x1="353.5" y1="47.76" x2="350.5" y2="47.76" stroke="#1a1a1a" stroke-width="1" />
<line x1="47.7" y1="43.48" x2="50.7" y2="43.48" stroke="#1a1a1a" stroke-width="1" />
<line x1="353.5" y1="43.48" x2="350.5" y2="43.48" stroke="#1a1a1a" stroke-width="1" />
<line x1="47.7" y1="39.86" x2="50.7" y2="39.86" stroke="#1a1a1a" stroke-width="1" />
<line x1="353.5" y1="39.86" x2="350.5" y2="39.86" stroke="#1a1a1a" stroke-width="1" />
<line x1="47.7" y1="36.73" x2="50.7" y2="36.73" stroke="#1a1a1a" stroke-width="1" />
<line x1="353.5" y1="36.73" x2="350.5" y2="36.73" stroke="#1a1a1a" stroke-width="1" />
<line x1="47.7" y1="33.97" x2="50.7" y2="33.97" stroke="#1a1a1a" stroke-width="1" />
<line x1="353.5" y1="33.97" x2="350.5" y2="33.97" stroke="#1a1a1a" stroke-width="1" />
<line x1="47.7" y1="31.5" x2="53.7" y2="31.5" stroke="#1a1a1a" stroke-width="1" />
<line x1="353.5" y1="31.5" x2="347.5" y2="31.5" stroke="#1a1a1a" stroke-width="1" />
<line x1="47.7" y1="15.24" x2="50.7" y2="15.24" stroke="#1a1a1a" stroke-width="1" />
<line x1="353.5" y1="15.24" x2="350.5" y2="15.24" stroke="#1a1a1a" stroke-width="1" />
<line x1="47.7" y1="5.74" x2="50.7" y2="5.74" stroke="#1a1a1a" stroke-width="1" />
<line x1="353.5" y1="5.74" x2="350.5" y2="5.74" stroke="#1a1a1a" stroke-width="1" />
<line x1="108.5" y1="215" x2="108.5" y2="209" stroke="#1a1a1a" stroke-width="1" />
<line x1="108.5" y1="0.3" x2="108.5" y2="6.3" stroke="#1a1a1a" stroke-width="1" />
<line x1="120.02" y1="215" x2="120.02" y2="212" stroke="#1a1a1a" stroke-width="1" />
<line x1="120.02" y1="0.3" x2="120.02" y2="3.3" stroke="#1a1a1a" stroke-width="1" />
<line x1="126.75" y1="215" x2="126.75" y2="212" stroke="#1a1a1a" stroke-width="1" />
<line x1="126.75" y1="0.3" x2="126.75" y2="3.3" stroke="#1a1a1a" stroke-width="1" />
<line x1="131.53" y1="215" x2="131.53" y2="212" stroke="#1a1a1a" stroke-width="1" />
<line x1="131.53" y1="0.3" x2="131.53" y2="3.3" stroke="#1a1a1a" stroke-width="1" />
<line x1="135.24" y1="215" x2="135.24" y2="212" stroke="#1a1a1a" stroke-width="1" />
<line x1="135.24" y1="0.3" x2="135.24" y2="3.3" stroke="#1a1a1a" stroke-width="1" />
<line x1="138.27" y1="215" x2="138.27" y2="212" stroke="#1a1a1a" stroke-width="1" />
<line x1="138.27" y1="0.3" x2="138.27" y2="3.3" stroke="#1a1a1a" stroke-width="1" />
<line x1="140.83" y1="215" x2="140.83" y2="212" stroke="#1a1a1a" stroke-width="1" />
<line x1="140.83" y1="0.3" x2="140.83" y2="3.3" stroke="#1a1a1a" stroke-width="1" />
<line x1="143.05" y1="215" x2="143.05" y2="212" stroke="#1a1a1a" stroke-width="1" />
<line x1="143.05" y1="0.3" x2="143.05" y2="3.3" stroke="#1a1a1a" stroke-width="1" />
<line x1="145.01" y1="215" x2="145.01" y2="212" stroke="#1a1a1a" stroke-width="1" />
<line x1="145.01" y1="0.3" x2="145.01" y2="3.3" stroke="#1a1a1a" stroke-width="1" />
<line x1="146.76" y1="215" x2="146.76" y2="212" stroke="#1a1a1a" stroke-width="1" />
<line x1="146.76" y1="0.3" x2="146.76" y2="3.3" stroke="#1a1a1a" stroke-width="1" />
<line x1="299.8" y1="215" x2="299.8" y2="209" stroke="#1a1a1a" stroke-width="1" />
<line x1="299.8" y1="0.3" x2="299.8" y2="6.3" stroke="#1a1a1a" stroke-width="1" />
<line x1="311.32" y1="215" x2="311.32" y2="212" stroke="#1a1a1a" stroke-width="1" />
<line x1="311.32" y1="0.3" x2="311.32" y2="3.3" stroke="#1a1a1a" stroke-width="1" />
<line x1="318.05" y1="215" x2="318.05" y2="212" stroke="#1a1a1a" stroke-width="1" />
<line x1="318.05" y1="0.3" x2="318.05" y2="3.3" stroke="#1a1a1a" stroke-width="1" />
<line x1="322.83" y1="215" x2="322.83" y2="212" stroke="#1a1a1a" stroke-width="1" />
<line x1="322.83" y1="0.3" x2="322.83" y2="3.3" stroke="#1a1a1a" stroke-width="1" />
<line x1="326.54" y1="215" x2="326.54" y2="212" stroke="#1a1a1a" stroke-width="1" />
<line x1="326.54" y1="0.3" x2="326.54" y2="3.3" stroke="#1a1a1a" stroke-width="1" />
<line x1="329.57" y1="215" x2="329.57" y2="212" stroke="#1a1a1a" stroke-width="1" />
<line x1="329.57" y1="0.3" x2="329.57" y2="3.3" stroke="#1a1a1a" stroke-width="1" />
<line x1="332.13" y1="215" x2="332.13" y2="212" stroke="#1a1a1a" stroke-width="1" />
<line x1="332.13" y1="0.3" x2="332.13" y2="3.3" stroke="#1a1a1a" stroke-width="1" />
<line x1="334.35" y1="215" x2="334.35" y2="212" stroke="#1a1a1a" stroke-width="1" />
<line x1="334.35" y1="0.3" x2="334.35" y2="3.3" stroke="#1a1a1a" stroke-width="1" />
<line x1="336.31" y1="215" x2="336.31" y2="212" stroke="#1a1a1a" stroke-width="1" />
<line x1="336.31" y1="0.3" x2="336.31" y2="3.3" stroke="#1a1a1a" stroke-width="1" />
<line x1="338.06" y1="215" x2="338.06" y2="212" stroke="#1a1a1a" stroke-width="1" />
<line x1="338.06" y1="0.3" x2="338.06" y2="3.3" stroke="#1a1a1a" stroke-width="1" />
<text x="94.85" y="234.2" font-size="14" fill="#000">10</text>
<text transform="translate(109.55 225.7) scale(1 1.15)" font-size="10.2" fill="#000">-10</text>
<text x="288.6" y="234.2" font-size="14" fill="#000">10</text>
<text transform="translate(303.3 225.7) scale(1 1.15)" font-size="10.2" fill="#000">-5</text>
<text x="26.47" y="39.2" font-size="14" fill="#000">10</text>
<text transform="translate(40.17 30.8) scale(1 1.1)" font-size="11.06" fill="#000">3</text>
<text x="26.47" y="93.2" font-size="14" fill="#000">10</text>
<text transform="translate(40.17 84.8) scale(1 1.1)" font-size="11.06" fill="#000">2</text>
<text x="45" y="144.4" font-size="14" text-anchor="end">10</text>
<text x="45" y="198.2" font-size="14" text-anchor="end">1</text>
<text x="178.3" y="249.7" font-size="17" letter-spacing="0.1">Δμ / ε</text>
<text x="220.4" y="256.3" font-size="11.5" font-style="italic">f</text>
<g transform="translate(12.2 113.6) rotate(-90)"><text x="0" y="0" font-size="21" font-style="italic">l</text><text x="4.5" y="7" font-size="12.8" font-style="italic">g</text></g>
<text transform="translate(127.5 24.2) rotate(22)" font-size="12.8" font-style="italic">planar substrate</text>
<text x="308.8" y="83.8" font-size="10" font-style="italic" letter-spacing="0.25">single</text>
<text x="308.8" y="94.6" font-size="10" font-style="italic" letter-spacing="0.25">grooves</text>
<text x="265.5" y="183.9" font-size="10" font-style="italic" letter-spacing="0.25">periodic</text>
<text x="265.5" y="194.8" font-size="10" font-style="italic" letter-spacing="0.25">grooves</text>
<g font-size="9.3" font-weight="bold" stroke="#000" stroke-width="0.22">
<text x="252.2" y="11.7">rectangular grooves</text>
<text x="249.6" y="56.1">parabolic grooves</text>
<text x="249.6" y="23.6"><tspan font-style="italic" font-weight="normal" stroke="none">R</tspan> = 53,</text>
<text x="286.6" y="23.6"><tspan font-style="italic" font-weight="normal" stroke="none">P</tspan> = 110</text>
<text x="249.6" y="35"><tspan font-style="italic" font-weight="normal" stroke="none">R</tspan> = 123,</text>
<text x="286.6" y="35"><tspan font-style="italic" font-weight="normal" stroke="none">P</tspan> = 250</text>
<text x="249.6" y="45.4"><tspan font-style="italic" font-weight="normal" stroke="none">R</tspan> = 248,</text>
<text x="286.6" y="45.4"><tspan font-style="italic" font-weight="normal" stroke="none">P</tspan>= 500</text>
<text x="249.6" y="66"><tspan font-style="italic" font-weight="normal" stroke="none">R</tspan> = 53,</text>
<text x="286.6" y="66"><tspan font-style="italic" font-weight="normal" stroke="none">P</tspan>= 110</text>
</g>
<line x1="231" y1="20.8" x2="243.7" y2="20.8" stroke="#222" stroke-width="1.35" stroke-opacity="0.72"/>
<line x1="231" y1="32" x2="243.7" y2="32" stroke="#ff0000" stroke-width="1.35" stroke-opacity="0.72"/>
<line x1="231" y1="43" x2="243.7" y2="43" stroke="#0000ff" stroke-width="1.35" stroke-opacity="0.72"/>
<line x1="231" y1="58.5" x2="243.7" y2="58.5" stroke="#00a000" stroke-width="1.35" stroke-opacity="0.72"/>
<rect x="74.8" y="99.4" width="113.7" height="92.8" fill="#fff"/>
<g clip-path="url(#ci)">
<line x1="68" y1="105.47" x2="116" y2="135.04" stroke="#111" stroke-width="0.95" stroke-dasharray="4.2 2 1.1 2"/>
<polyline fill="none" stroke="#111" stroke-width="1.02" stroke-linejoin="round"  points="66.5,86.5 67.59,87.58 68.68,88.66 69.77,89.74 70.86,90.83 71.95,91.92 73.04,93.02 74.13,94.12 75.22,95.22 76.31,96.33 77.4,97.44 78.49,98.56 79.58,99.68 80.67,100.79 81.76,101.91 82.85,103.02 83.94,104.13 85.03,105.25 86.12,106.37 87.21,107.5 88.3,108.65 89.39,109.81 90.48,110.99 91.57,112.19 92.66,113.41 93.75,114.68 94.84,116.02 95.93,117.36 97.02,118.64 98.11,119.91 99.2,121.16 100.29,122.38 101.38,123.56 102.47,124.67 103.56,125.72 104.65,126.72 105.74,127.69 106.83,128.62 107.92,129.53 109.01,130.4 110.1,131.25 111.19,132.06 112.28,132.85 113.37,133.63 114.46,134.4 115.54,135.18 116.63,135.96 117.72,136.74 118.81,137.52 119.9,138.27 120.99,139 122.08,139.69 123.17,140.36 124.26,141.01 125.35,141.65 126.44,142.29 127.53,142.92 128.62,143.54 129.71,144.15 130.8,144.76 131.89,145.39 132.98,146.03 134.07,146.68 135.16,147.35 136.25,148.03 137.34,148.71 138.43,149.39 139.52,150.08 140.61,150.77 141.7,151.46 142.79,152.15 143.88,152.83 144.97,153.51 146.06,154.2 147.15,154.89 148.24,155.58 149.33,156.27 150.42,156.96 151.51,157.65 152.6,158.34 153.69,159.02 154.78,159.69 155.87,160.36 156.96,161.02 158.05,161.67 159.14,162.31 160.23,162.94 161.32,163.57 162.41,164.19 163.5,164.8"/>
<polyline fill="none" stroke="#ff0000" stroke-width="1.02" stroke-linejoin="round"  points="68,86.5 69.07,87.5 70.15,88.51 71.22,89.53 72.29,90.56 73.37,91.61 74.44,92.66 75.51,93.72 76.58,94.79 77.66,95.86 78.73,96.95 79.8,98.05 80.88,99.15 81.95,100.27 83.02,101.38 84.1,102.49 85.17,103.62 86.24,104.74 87.31,105.89 88.39,107.04 89.46,108.22 90.53,109.42 91.61,110.65 92.68,111.91 93.75,113.2 94.83,114.57 95.9,116.04 96.97,117.46 98.04,118.81 99.12,120.14 100.19,121.44 101.26,122.69 102.34,123.89 103.41,125.03 104.48,126.11 105.56,127.15 106.63,128.15 107.7,129.12 108.78,130.04 109.85,130.93 110.92,131.78 111.99,132.59 113.07,133.38 114.14,134.16 115.21,134.94 116.29,135.72 117.36,136.49 118.43,137.26 119.51,138 120.58,138.72 121.65,139.42 122.72,140.09 123.8,140.73 124.87,141.37 125.94,142 127.02,142.63 128.09,143.24 129.16,143.85 130.24,144.45 131.31,145.05 132.38,145.67 133.46,146.31 134.53,146.96 135.6,147.62 136.67,148.29 137.75,148.96 138.82,149.64 139.89,150.32 140.97,151 142.04,151.67 143.11,152.35 144.19,153.02 145.26,153.69 146.33,154.37 147.4,155.05 148.48,155.73 149.55,156.41 150.62,157.09 151.7,157.77 152.77,158.44 153.84,159.11 154.92,159.77 155.99,160.43 157.06,161.08 158.13,161.72 159.21,162.35 160.28,162.97 161.35,163.59 162.43,164.2 163.5,164.8"/>
<polyline fill="none" stroke="#0000ff" stroke-width="1.02" stroke-linejoin="round"  points="70,86.5 71.05,87.45 72.1,88.42 73.15,89.4 74.2,90.4 75.25,91.41 76.3,92.43 77.35,93.47 78.4,94.52 79.46,95.59 80.51,96.66 81.56,97.75 82.61,98.85 83.66,99.97 84.71,101.09 85.76,102.22 86.81,103.36 87.86,104.52 88.91,105.69 89.96,106.89 91.01,108.11 92.06,109.35 93.11,110.63 94.16,111.93 95.21,113.28 96.26,114.74 97.31,116.25 98.37,117.69 99.42,119.12 100.47,120.54 101.52,121.92 102.57,123.24 103.62,124.49 104.67,125.66 105.72,126.78 106.77,127.84 107.82,128.86 108.87,129.84 109.92,130.77 110.97,131.66 112.02,132.5 113.07,133.32 114.12,134.12 115.17,134.91 116.22,135.68 117.28,136.45 118.33,137.19 119.38,137.92 120.43,138.62 121.48,139.31 122.53,139.97 123.58,140.6 124.63,141.23 125.68,141.84 126.73,142.46 127.78,143.07 128.83,143.66 129.88,144.25 130.93,144.84 131.98,145.44 133.03,146.06 134.08,146.69 135.13,147.33 136.19,147.98 137.24,148.64 138.29,149.3 139.34,149.97 140.39,150.63 141.44,151.29 142.49,151.96 143.54,152.61 144.59,153.27 145.64,153.93 146.69,154.6 147.74,155.26 148.79,155.93 149.84,156.6 150.89,157.26 151.94,157.92 152.99,158.58 154.04,159.24 155.1,159.88 156.15,160.52 157.2,161.16 158.25,161.78 159.3,162.4 160.35,163.01 161.4,163.61 162.45,164.21 163.5,164.8"/>
<circle cx="163.5" cy="164.3" r="1.6" fill="none" stroke="#111" stroke-width="0.9"/>
<circle cx="168.71" cy="167.32" r="1.6" fill="none" stroke="#111" stroke-width="0.9"/>
<circle cx="171.75" cy="169.3" r="1.6" fill="none" stroke="#111" stroke-width="0.9"/>
<circle cx="173.92" cy="170.77" r="1.6" fill="none" stroke="#111" stroke-width="0.9"/>
<circle cx="175.59" cy="171.89" r="1.6" fill="none" stroke="#111" stroke-width="0.9"/>
<circle cx="176.96" cy="172.79" r="1.6" fill="none" stroke="#111" stroke-width="0.9"/>
<circle cx="178.12" cy="173.56" r="1.6" fill="none" stroke="#111" stroke-width="0.9"/>
<circle cx="179.12" cy="174.22" r="1.6" fill="none" stroke="#111" stroke-width="0.9"/>
<circle cx="180.01" cy="174.82" r="1.6" fill="none" stroke="#111" stroke-width="0.9"/>
<circle cx="180.8" cy="175.36" r="1.6" fill="none" stroke="#111" stroke-width="0.9"/>
<circle cx="181.52" cy="175.86" r="1.6" fill="none" stroke="#111" stroke-width="0.9"/>
<circle cx="182.17" cy="176.32" r="1.6" fill="none" stroke="#111" stroke-width="0.9"/>
<circle cx="182.77" cy="176.75" r="1.6" fill="none" stroke="#111" stroke-width="0.9"/>
<circle cx="183.33" cy="177.15" r="1.6" fill="none" stroke="#111" stroke-width="0.9"/>
<circle cx="183.85" cy="177.52" r="1.6" fill="none" stroke="#111" stroke-width="0.9"/>
<circle cx="184.33" cy="177.87" r="1.6" fill="none" stroke="#111" stroke-width="0.9"/>
<circle cx="184.79" cy="178.21" r="1.6" fill="none" stroke="#111" stroke-width="0.9"/>
<circle cx="185.22" cy="178.52" r="1.6" fill="none" stroke="#111" stroke-width="0.9"/>
<circle cx="185.62" cy="178.82" r="1.6" fill="none" stroke="#111" stroke-width="0.9"/>
<circle cx="186.01" cy="179.11" r="1.6" fill="none" stroke="#111" stroke-width="0.9"/>
<circle cx="186.37" cy="179.38" r="1.6" fill="none" stroke="#111" stroke-width="0.9"/>
<circle cx="186.72" cy="179.65" r="1.6" fill="none" stroke="#111" stroke-width="0.9"/>
<circle cx="187.06" cy="179.9" r="1.6" fill="none" stroke="#111" stroke-width="0.9"/>
<circle cx="187.38" cy="180.14" r="1.6" fill="none" stroke="#111" stroke-width="0.9"/>
<circle cx="187.68" cy="180.37" r="1.6" fill="none" stroke="#111" stroke-width="0.9"/>
<circle cx="163.5" cy="164.3" r="1.6" fill="none" stroke="#ff0000" stroke-width="0.9"/>
<circle cx="168.71" cy="167.78" r="1.6" fill="none" stroke="#ff0000" stroke-width="0.9"/>
<circle cx="171.75" cy="170.17" r="1.6" fill="none" stroke="#ff0000" stroke-width="0.9"/>
<circle cx="173.92" cy="172.03" r="1.6" fill="none" stroke="#ff0000" stroke-width="0.9"/>
<circle cx="175.59" cy="173.54" r="1.6" fill="none" stroke="#ff0000" stroke-width="0.9"/>
<circle cx="176.96" cy="174.83" r="1.6" fill="none" stroke="#ff0000" stroke-width="0.9"/>
<circle cx="178.12" cy="175.96" r="1.6" fill="none" stroke="#ff0000" stroke-width="0.9"/>
<circle cx="179.12" cy="176.98" r="1.6" fill="none" stroke="#ff0000" stroke-width="0.9"/>
<circle cx="180.01" cy="177.91" r="1.6" fill="none" stroke="#ff0000" stroke-width="0.9"/>
<circle cx="180.8" cy="178.78" r="1.6" fill="none" stroke="#ff0000" stroke-width="0.9"/>
<circle cx="181.52" cy="179.58" r="1.6" fill="none" stroke="#ff0000" stroke-width="0.9"/>
<circle cx="182.17" cy="180.34" r="1.6" fill="none" stroke="#ff0000" stroke-width="0.9"/>
<circle cx="182.77" cy="181.05" r="1.6" fill="none" stroke="#ff0000" stroke-width="0.9"/>
<circle cx="183.33" cy="181.74" r="1.6" fill="none" stroke="#ff0000" stroke-width="0.9"/>
<circle cx="183.85" cy="182.41" r="1.6" fill="none" stroke="#ff0000" stroke-width="0.9"/>
<circle cx="184.33" cy="183.06" r="1.6" fill="none" stroke="#ff0000" stroke-width="0.9"/>
<circle cx="184.79" cy="183.69" r="1.6" fill="none" stroke="#ff0000" stroke-width="0.9"/>
<circle cx="185.22" cy="184.31" r="1.6" fill="none" stroke="#ff0000" stroke-width="0.9"/>
<circle cx="185.62" cy="184.9" r="1.6" fill="none" stroke="#ff0000" stroke-width="0.9"/>
<circle cx="186.01" cy="185.47" r="1.6" fill="none" stroke="#ff0000" stroke-width="0.9"/>
<circle cx="186.37" cy="186.03" r="1.6" fill="none" stroke="#ff0000" stroke-width="0.9"/>
<circle cx="186.72" cy="186.59" r="1.6" fill="none" stroke="#ff0000" stroke-width="0.9"/>
<circle cx="187.06" cy="187.14" r="1.6" fill="none" stroke="#ff0000" stroke-width="0.9"/>
<circle cx="187.38" cy="187.71" r="1.6" fill="none" stroke="#ff0000" stroke-width="0.9"/>
<circle cx="187.68" cy="188.28" r="1.6" fill="none" stroke="#ff0000" stroke-width="0.9"/>
<circle cx="160.82" cy="163.24" r="1.6" fill="none" stroke="#0000ff" stroke-width="0.9"/>
<circle cx="161.82" cy="163.82" r="1.6" fill="none" stroke="#0000ff" stroke-width="0.9"/>
<circle cx="162.71" cy="164.37" r="1.6" fill="none" stroke="#0000ff" stroke-width="0.9"/>
<circle cx="163.5" cy="164.9" r="1.6" fill="none" stroke="#0000ff" stroke-width="0.9"/>
<circle cx="168.71" cy="169.2" r="1.6" fill="none" stroke="#0000ff" stroke-width="0.9"/>
<circle cx="171.75" cy="173.15" r="1.6" fill="none" stroke="#0000ff" stroke-width="0.9"/>
<circle cx="173.92" cy="176.25" r="1.6" fill="none" stroke="#0000ff" stroke-width="0.9"/>
<circle cx="175.59" cy="179.05" r="1.6" fill="none" stroke="#0000ff" stroke-width="0.9"/>
<circle cx="176.96" cy="181.77" r="1.6" fill="none" stroke="#0000ff" stroke-width="0.9"/>
<circle cx="178.12" cy="184.52" r="1.6" fill="none" stroke="#0000ff" stroke-width="0.9"/>
<circle cx="179.12" cy="187.38" r="1.6" fill="none" stroke="#0000ff" stroke-width="0.9"/>
<circle cx="180.01" cy="190.72" r="1.6" fill="none" stroke="#0000ff" stroke-width="0.9"/>
</g>
<rect x="74.8" y="99.4" width="113.7" height="92.8" fill="none" stroke="#1a1a1a" stroke-width="1.1"/>
<line x1="74.8" y1="189.65" x2="77.9" y2="189.65" stroke="#1a1a1a" stroke-width="0.9" />
<line x1="188.5" y1="189.65" x2="185.4" y2="189.65" stroke="#1a1a1a" stroke-width="0.9" />
<line x1="74.8" y1="187.5" x2="77.9" y2="187.5" stroke="#1a1a1a" stroke-width="0.9" />
<line x1="188.5" y1="187.5" x2="185.4" y2="187.5" stroke="#1a1a1a" stroke-width="0.9" />
<line x1="74.8" y1="185.63" x2="77.9" y2="185.63" stroke="#1a1a1a" stroke-width="0.9" />
<line x1="188.5" y1="185.63" x2="185.4" y2="185.63" stroke="#1a1a1a" stroke-width="0.9" />
<line x1="74.8" y1="183.98" x2="77.9" y2="183.98" stroke="#1a1a1a" stroke-width="0.9" />
<line x1="188.5" y1="183.98" x2="185.4" y2="183.98" stroke="#1a1a1a" stroke-width="0.9" />
<line x1="74.8" y1="182.5" x2="81.2" y2="182.5" stroke="#1a1a1a" stroke-width="0.9" />
<line x1="188.5" y1="182.5" x2="182.1" y2="182.5" stroke="#1a1a1a" stroke-width="0.9" />
<line x1="74.8" y1="172.79" x2="77.9" y2="172.79" stroke="#1a1a1a" stroke-width="0.9" />
<line x1="188.5" y1="172.79" x2="185.4" y2="172.79" stroke="#1a1a1a" stroke-width="0.9" />
<line x1="74.8" y1="167.11" x2="77.9" y2="167.11" stroke="#1a1a1a" stroke-width="0.9" />
<line x1="188.5" y1="167.11" x2="185.4" y2="167.11" stroke="#1a1a1a" stroke-width="0.9" />
<line x1="74.8" y1="163.08" x2="77.9" y2="163.08" stroke="#1a1a1a" stroke-width="0.9" />
<line x1="188.5" y1="163.08" x2="185.4" y2="163.08" stroke="#1a1a1a" stroke-width="0.9" />
<line x1="74.8" y1="159.96" x2="77.9" y2="159.96" stroke="#1a1a1a" stroke-width="0.9" />
<line x1="188.5" y1="159.96" x2="185.4" y2="159.96" stroke="#1a1a1a" stroke-width="0.9" />
<line x1="74.8" y1="157.4" x2="77.9" y2="157.4" stroke="#1a1a1a" stroke-width="0.9" />
<line x1="188.5" y1="157.4" x2="185.4" y2="157.4" stroke="#1a1a1a" stroke-width="0.9" />
<line x1="74.8" y1="155.25" x2="77.9" y2="155.25" stroke="#1a1a1a" stroke-width="0.9" />
<line x1="188.5" y1="155.25" x2="185.4" y2="155.25" stroke="#1a1a1a" stroke-width="0.9" />
<line x1="74.8" y1="153.38" x2="77.9" y2="153.38" stroke="#1a1a1a" stroke-width="0.9" />
<line x1="188.5" y1="153.38" x2="185.4" y2="153.38" stroke="#1a1a1a" stroke-width="0.9" />
<line x1="74.8" y1="151.73" x2="77.9" y2="151.73" stroke="#1a1a1a" stroke-width="0.9" />
<line x1="188.5" y1="151.73" x2="185.4" y2="151.73" stroke="#1a1a1a" stroke-width="0.9" />
<line x1="74.8" y1="150.25" x2="81.2" y2="150.25" stroke="#1a1a1a" stroke-width="0.9" />
<line x1="188.5" y1="150.25" x2="182.1" y2="150.25" stroke="#1a1a1a" stroke-width="0.9" />
<line x1="74.8" y1="140.54" x2="77.9" y2="140.54" stroke="#1a1a1a" stroke-width="0.9" />
<line x1="188.5" y1="140.54" x2="185.4" y2="140.54" stroke="#1a1a1a" stroke-width="0.9" />
<line x1="74.8" y1="134.86" x2="77.9" y2="134.86" stroke="#1a1a1a" stroke-width="0.9" />
<line x1="188.5" y1="134.86" x2="185.4" y2="134.86" stroke="#1a1a1a" stroke-width="0.9" />
<line x1="74.8" y1="130.83" x2="77.9" y2="130.83" stroke="#1a1a1a" stroke-width="0.9" />
<line x1="188.5" y1="130.83" x2="185.4" y2="130.83" stroke="#1a1a1a" stroke-width="0.9" />
<line x1="74.8" y1="127.71" x2="77.9" y2="127.71" stroke="#1a1a1a" stroke-width="0.9" />
<line x1="188.5" y1="127.71" x2="185.4" y2="127.71" stroke="#1a1a1a" stroke-width="0.9" />
<line x1="74.8" y1="125.15" x2="77.9" y2="125.15" stroke="#1a1a1a" stroke-width="0.9" />
<line x1="188.5" y1="125.15" x2="185.4" y2="125.15" stroke="#1a1a1a" stroke-width="0.9" />
<line x1="74.8" y1="123" x2="77.9" y2="123" stroke="#1a1a1a" stroke-width="0.9" />
<line x1="188.5" y1="123" x2="185.4" y2="123" stroke="#1a1a1a" stroke-width="0.9" />
<line x1="74.8" y1="121.13" x2="77.9" y2="121.13" stroke="#1a1a1a" stroke-width="0.9" />
<line x1="188.5" y1="121.13" x2="185.4" y2="121.13" stroke="#1a1a1a" stroke-width="0.9" />
<line x1="74.8" y1="119.48" x2="77.9" y2="119.48" stroke="#1a1a1a" stroke-width="0.9" />
<line x1="188.5" y1="119.48" x2="185.4" y2="119.48" stroke="#1a1a1a" stroke-width="0.9" />
<line x1="74.8" y1="118" x2="81.2" y2="118" stroke="#1a1a1a" stroke-width="0.9" />
<line x1="188.5" y1="118" x2="182.1" y2="118" stroke="#1a1a1a" stroke-width="0.9" />
<line x1="74.8" y1="108.29" x2="77.9" y2="108.29" stroke="#1a1a1a" stroke-width="0.9" />
<line x1="188.5" y1="108.29" x2="185.4" y2="108.29" stroke="#1a1a1a" stroke-width="0.9" />
<line x1="74.8" y1="102.61" x2="77.9" y2="102.61" stroke="#1a1a1a" stroke-width="0.9" />
<line x1="188.5" y1="102.61" x2="185.4" y2="102.61" stroke="#1a1a1a" stroke-width="0.9" />
<line x1="77" y1="192.2" x2="77" y2="185.8" stroke="#1a1a1a" stroke-width="0.9" />
<line x1="77" y1="99.4" x2="77" y2="105.8" stroke="#1a1a1a" stroke-width="0.9" />
<line x1="82.21" y1="192.2" x2="82.21" y2="189.1" stroke="#1a1a1a" stroke-width="0.9" />
<line x1="82.21" y1="99.4" x2="82.21" y2="102.5" stroke="#1a1a1a" stroke-width="0.9" />
<line x1="85.25" y1="192.2" x2="85.25" y2="189.1" stroke="#1a1a1a" stroke-width="0.9" />
<line x1="85.25" y1="99.4" x2="85.25" y2="102.5" stroke="#1a1a1a" stroke-width="0.9" />
<line x1="87.42" y1="192.2" x2="87.42" y2="189.1" stroke="#1a1a1a" stroke-width="0.9" />
<line x1="87.42" y1="99.4" x2="87.42" y2="102.5" stroke="#1a1a1a" stroke-width="0.9" />
<line x1="89.09" y1="192.2" x2="89.09" y2="189.1" stroke="#1a1a1a" stroke-width="0.9" />
<line x1="89.09" y1="99.4" x2="89.09" y2="102.5" stroke="#1a1a1a" stroke-width="0.9" />
<line x1="90.46" y1="192.2" x2="90.46" y2="189.1" stroke="#1a1a1a" stroke-width="0.9" />
<line x1="90.46" y1="99.4" x2="90.46" y2="102.5" stroke="#1a1a1a" stroke-width="0.9" />
<line x1="91.62" y1="192.2" x2="91.62" y2="189.1" stroke="#1a1a1a" stroke-width="0.9" />
<line x1="91.62" y1="99.4" x2="91.62" y2="102.5" stroke="#1a1a1a" stroke-width="0.9" />
<line x1="92.62" y1="192.2" x2="92.62" y2="189.1" stroke="#1a1a1a" stroke-width="0.9" />
<line x1="92.62" y1="99.4" x2="92.62" y2="102.5" stroke="#1a1a1a" stroke-width="0.9" />
<line x1="93.51" y1="192.2" x2="93.51" y2="189.1" stroke="#1a1a1a" stroke-width="0.9" />
<line x1="93.51" y1="99.4" x2="93.51" y2="102.5" stroke="#1a1a1a" stroke-width="0.9" />
<line x1="94.3" y1="192.2" x2="94.3" y2="189.1" stroke="#1a1a1a" stroke-width="0.9" />
<line x1="94.3" y1="99.4" x2="94.3" y2="102.5" stroke="#1a1a1a" stroke-width="0.9" />
<line x1="163.5" y1="192.2" x2="163.5" y2="185.8" stroke="#1a1a1a" stroke-width="0.9" />
<line x1="163.5" y1="99.4" x2="163.5" y2="105.8" stroke="#1a1a1a" stroke-width="0.9" />
<line x1="168.71" y1="192.2" x2="168.71" y2="189.1" stroke="#1a1a1a" stroke-width="0.9" />
<line x1="168.71" y1="99.4" x2="168.71" y2="102.5" stroke="#1a1a1a" stroke-width="0.9" />
<line x1="171.75" y1="192.2" x2="171.75" y2="189.1" stroke="#1a1a1a" stroke-width="0.9" />
<line x1="171.75" y1="99.4" x2="171.75" y2="102.5" stroke="#1a1a1a" stroke-width="0.9" />
<line x1="173.92" y1="192.2" x2="173.92" y2="189.1" stroke="#1a1a1a" stroke-width="0.9" />
<line x1="173.92" y1="99.4" x2="173.92" y2="102.5" stroke="#1a1a1a" stroke-width="0.9" />
<line x1="175.59" y1="192.2" x2="175.59" y2="189.1" stroke="#1a1a1a" stroke-width="0.9" />
<line x1="175.59" y1="99.4" x2="175.59" y2="102.5" stroke="#1a1a1a" stroke-width="0.9" />
<line x1="176.96" y1="192.2" x2="176.96" y2="189.1" stroke="#1a1a1a" stroke-width="0.9" />
<line x1="176.96" y1="99.4" x2="176.96" y2="102.5" stroke="#1a1a1a" stroke-width="0.9" />
<line x1="178.12" y1="192.2" x2="178.12" y2="189.1" stroke="#1a1a1a" stroke-width="0.9" />
<line x1="178.12" y1="99.4" x2="178.12" y2="102.5" stroke="#1a1a1a" stroke-width="0.9" />
<line x1="179.12" y1="192.2" x2="179.12" y2="189.1" stroke="#1a1a1a" stroke-width="0.9" />
<line x1="179.12" y1="99.4" x2="179.12" y2="102.5" stroke="#1a1a1a" stroke-width="0.9" />
<line x1="180.01" y1="192.2" x2="180.01" y2="189.1" stroke="#1a1a1a" stroke-width="0.9" />
<line x1="180.01" y1="99.4" x2="180.01" y2="102.5" stroke="#1a1a1a" stroke-width="0.9" />
<line x1="180.8" y1="192.2" x2="180.8" y2="189.1" stroke="#1a1a1a" stroke-width="0.9" />
<line x1="180.8" y1="99.4" x2="180.8" y2="102.5" stroke="#1a1a1a" stroke-width="0.9" />
<text x="65.83" y="209.2" font-size="13.3" fill="#000">10</text>
<text transform="translate(79.03 202.2) scale(1 1.1)" font-size="8.8" fill="#000">-10</text>
<text x="154.43" y="209.2" font-size="13.3" fill="#000">10</text>
<text transform="translate(167.63 202.2) scale(1 1.1)" font-size="8.8" fill="#000">-5</text>
<text x="55.25" y="125" font-size="13" fill="#000">10</text>
<text transform="translate(67.95 117.4) scale(1 1.1)" font-size="9.7" fill="#000">3</text>
<text x="55.25" y="157.2" font-size="13" fill="#000">10</text>
<text transform="translate(67.95 149.6) scale(1 1.1)" font-size="9.7" fill="#000">2</text>
<text x="72.3" y="186.8" font-size="13" text-anchor="end">10</text>
<text x="115.6" y="88.9" font-size="13.1">Δμ / ε</text>
<text x="147.0" y="94.3" font-size="10.5" font-style="italic">f</text>
<g transform="translate(206.6 163.4) rotate(-90)">
<text x="-0.2" y="0" font-size="15.2">Φ</text>
<text x="11.7" y="6.4" font-size="10" font-style="italic">g</text>
<text x="9.8" y="-7.5" font-size="11.2">-1/3</text>
<text x="27.4" y="-0.8" font-size="13.5" font-style="italic">l</text>
<text x="29.9" y="6.8" font-size="10" font-style="italic">g</text>
</g>
</svg>
</body></html>
